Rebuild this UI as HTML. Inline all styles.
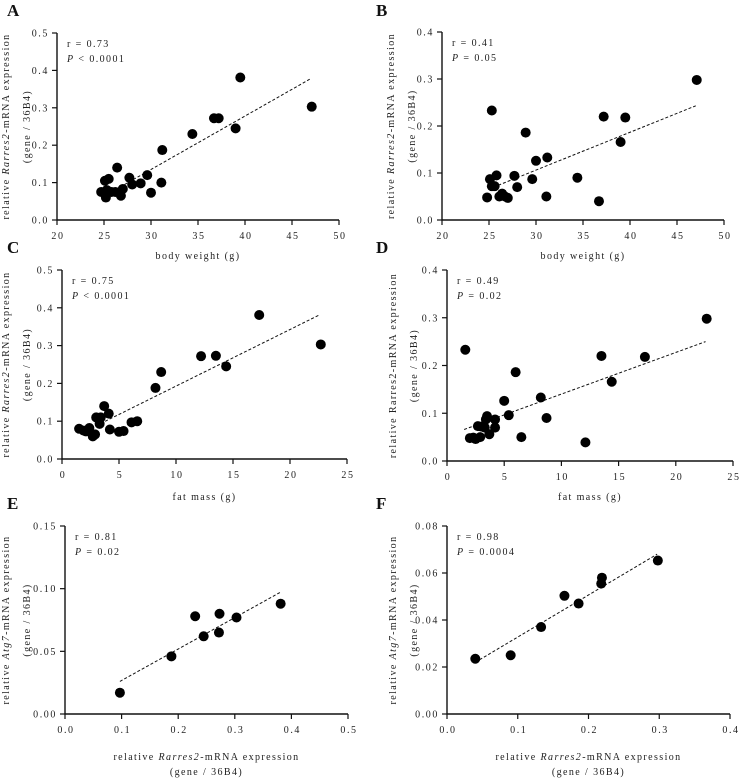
<!DOCTYPE html>
<html><head><meta charset="utf-8">
<style>
html,body{margin:0;padding:0;background:#fff;}
svg{display:block;font-family:"Liberation Serif",serif;}
.tk{font-size:10px;letter-spacing:1.6px;fill:#222;}
.ttl{font-size:10px;letter-spacing:1.4px;fill:#222;}
.st{font-size:10px;letter-spacing:1.4px;fill:#222;}
.lt{font-size:17px;font-weight:bold;fill:#111;}
</style></head>
<body>
<svg id="fig" width="739" height="779" viewBox="0 0 739 779" xmlns="http://www.w3.org/2000/svg"></svg>
<script>
// Panel A: body weight vs Rarres2
const aX=[24.7,25.1,25.5,25.2,25.3,25.8,26.2,26.4,26.8,27.0,27.7,28.0,28.9,29.6,30.0,31.1,31.2,34.4,36.7,37.2,39.0,39.5,47.1];
const aY=[0.075,0.105,0.11,0.06,0.08,0.075,0.075,0.14,0.065,0.083,0.113,0.095,0.098,0.12,0.073,0.1,0.187,0.23,0.272,0.272,0.245,0.381,0.303];
const aFit=[[25.8,0.075],[47.0,0.378]];
// Panel B: body weight vs Rarres2 (second tissue)
const bX=[24.8,25.1,25.3,25.3,25.6,25.8,26.1,26.4,26.7,27.0,27.7,28.0,28.9,29.6,30.0,31.1,31.2,34.4,36.7,37.2,39.0,39.5,47.1];
const bY=[0.048,0.087,0.233,0.072,0.072,0.095,0.05,0.056,0.05,0.047,0.094,0.07,0.186,0.087,0.126,0.05,0.133,0.09,0.04,0.22,0.166,0.218,0.298];
const bFit=[[25.5,0.07],[47.0,0.243]];
// Panel C: fat mass vs Rarres2
const cX=[1.5,1.9,2.1,2.4,2.7,2.9,3.0,3.3,3.4,3.7,4.1,4.2,5.0,5.4,6.1,6.6,8.2,8.7,12.2,13.5,14.4,17.3,22.7];
const cY=[0.08,0.075,0.073,0.082,0.06,0.065,0.11,0.093,0.11,0.14,0.12,0.078,0.072,0.074,0.097,0.1,0.188,0.23,0.272,0.273,0.245,0.381,0.303];
const cFit=[[3.0,0.088],[22.5,0.38]];
// Panel D: fat mass vs Rarres2 (second tissue)
const dX=[1.6,2.0,2.3,2.5,2.7,2.9,3.0,3.3,3.4,3.5,3.7,4.2,4.2,5.0,5.4,6.0,6.5,8.2,8.7,12.1,13.5,14.4,17.3,22.7];
const dY=[0.233,0.048,0.049,0.046,0.073,0.05,0.072,0.07,0.087,0.094,0.056,0.087,0.07,0.126,0.096,0.186,0.05,0.133,0.09,0.039,0.22,0.166,0.218,0.298];
const dFit=[[1.5,0.066],[22.6,0.25]];
// Panel E: Rarres2 vs Atg7
const eX=[0.097,0.188,0.23,0.245,0.272,0.273,0.303,0.381];
const eY=[0.017,0.046,0.078,0.062,0.065,0.08,0.077,0.088];
const eFit=[[0.097,0.026],[0.38,0.097]];
// Panel F: Rarres2 vs Atg7 (second tissue)
const fX=[0.04,0.09,0.133,0.166,0.186,0.218,0.219,0.298];
const fY=[0.0235,0.025,0.037,0.0503,0.047,0.0555,0.058,0.0653];
const fFit=[[0.04,0.022],[0.297,0.068]];
// tick labels
const xTicksBW=["20","25","30","35","40","45","50"];
const xTicksFM=["0","5","10","15","20","25"];
const xTicksE=["0.0","0.1","0.2","0.3","0.4","0.5"];
const xTicksF=["0.0","0.1","0.2","0.3","0.4"];
const yTicks5=["0.0","0.1","0.2","0.3","0.4","0.5"];
const yTicks4=["0.0","0.1","0.2","0.3","0.4"];
const yTicksE=["0.00","0.05","0.10","0.15"];
const yTicksF=["0.00","0.02","0.04","0.06","0.08"];

const NS="http://www.w3.org/2000/svg";
const svg=document.getElementById('fig');
function mk(tag,attrs,parent,txt){const e=document.createElementNS(NS,tag);for(const k in attrs)e.setAttribute(k,attrs[k]);if(txt!==undefined)e.textContent=txt;(parent||svg).appendChild(e);return e;}

function panel(cfg){
  const g=mk('g',{});
  
  
  const [x0,x1]=cfg.xd,[y0,y1]=cfg.yd;
  const sx=v=>cfg.L+(v-x0)/(x1-x0)*(cfg.R-cfg.L);
  const sy=v=>cfg.B-(v-y0)/(y1-y0)*(cfg.B-cfg.T);
  // letter
  const lt=mk('text',{x:cfg.lx,y:cfg.ly,class:'lt'},g,cfg.id);
  
  
  // axes
  const ax=mk('path',{d:`M${cfg.L},${cfg.T}V${cfg.B}H${cfg.R}`,stroke:'#111','stroke-width':1.4,fill:'none'},g);
  
  
  cfg.xt.forEach(t=>{const x=sx(parseFloat(t));
    mk('line',{x1:x,x2:x,y1:cfg.B,y2:cfg.B+5,stroke:'#111','stroke-width':1.2},g);
    const tl=mk('text',{x:x+1,y:cfg.B+19,class:'tk','text-anchor':'middle'},g,t);
    
    });
  cfg.yt.forEach(t=>{const y=sy(parseFloat(t));
    mk('line',{x1:cfg.L-5,x2:cfg.L,y1:y,y2:y,stroke:'#111','stroke-width':1.2},g);
    const tl=mk('text',{x:cfg.L-8,y:y+3.5,class:'tk','text-anchor':'end'},g,t);
    
    });
  // x title
  const cx=(cfg.L+cfg.R)/2;
  cfg.xtitle.forEach((ln,i)=>{const t=mk('text',{x:cx,y:cfg.xty+i*15,class:'ttl','text-anchor':'middle'},g);t.innerHTML=ln;
    
    });
  // y title
  const cy=(cfg.T+cfg.B)/2;
  cfg.ytitle.forEach((ln,i)=>{const xx=cfg.ytx+i*21;const t=mk('text',{x:xx,y:cy,class:'ttl','text-anchor':'middle',transform:`rotate(-90 ${xx} ${cy})`},g);t.innerHTML=ln;
    
    });
  // stats
  const s1=mk('text',{x:cfg.L+10,y:cfg.T+14,class:'st'},g,cfg.r);
  
  
  const s2=mk('text',{x:cfg.L+10,y:cfg.T+29,class:'st'},g);s2.innerHTML='<tspan font-style="italic">P</tspan> '+cfg.p;
  
  
  // fit
  const fl=mk('line',{x1:sx(cfg.fit[0][0]),y1:sy(cfg.fit[0][1]),x2:sx(cfg.fit[1][0]),y2:sy(cfg.fit[1][1]),stroke:'#111','stroke-width':1,'stroke-dasharray':'3,2'},g);
  
  
  cfg.xs.forEach((v,i)=>{const c=mk('circle',{cx:sx(v),cy:sy(cfg.ys[i]),r:5,fill:'#000'},g);
    
    });
}
const rar='relative <tspan font-style="italic">Rarres2</tspan>-mRNA expression';
const atg='relative <tspan font-style="italic">Atg7</tspan>-mRNA expression';
const gn='(gene / 36B4)';
panel({id:'A',L:57,R:339,T:33,B:220,xd:[20,50],yd:[0,0.5],xt:xTicksBW,yt:yTicks5,xs:aX,ys:aY,fit:aFit,lx:7,ly:16,xtitle:['body weight (g)'],xty:259,ytitle:[rar,gn],ytx:9,r:'r = 0.73',p:'&lt; 0.0001'});
panel({id:'B',L:442,R:724,T:32,B:220,xd:[20,50],yd:[0,0.4],xt:xTicksBW,yt:yTicks4,xs:bX,ys:bY,fit:bFit,lx:376,ly:16,xtitle:['body weight (g)'],xty:259,ytitle:[rar,gn],ytx:394,r:'r = 0.41',p:'= 0.05'});
panel({id:'C',L:62,R:347,T:270,B:459,xd:[0,25],yd:[0,0.5],xt:xTicksFM,yt:yTicks5,xs:cX,ys:cY,fit:cFit,lx:7,ly:253,xtitle:['fat mass (g)'],xty:500,ytitle:[rar,gn],ytx:9,r:'r = 0.75',p:'&lt; 0.0001'});
panel({id:'D',L:447,R:733,T:270,B:461,xd:[0,25],yd:[0,0.4],xt:xTicksFM,yt:yTicks4,xs:dX,ys:dY,fit:dFit,lx:376,ly:253,xtitle:['fat mass (g)'],xty:500,ytitle:['relative Rarres2-mRNA expression',gn],ytx:396,r:'r = 0.49',p:'= 0.02'});
panel({id:'E',L:65,R:348,T:526,B:714,xd:[0,0.5],yd:[0,0.15],xt:xTicksE,yt:yTicksE,xs:eX,ys:eY,fit:eFit,lx:7,ly:509,xtitle:[rar,gn],xty:760,ytitle:[atg,gn],ytx:9,r:'r = 0.81',p:'= 0.02'});
panel({id:'F',L:447,R:730,T:526,B:714,xd:[0,0.4],yd:[0,0.08],xt:xTicksF,yt:yTicksF,xs:fX,ys:fY,fit:fFit,lx:376,ly:509,xtitle:[rar,gn],xty:760,ytitle:[atg,gn],ytx:396,r:'r = 0.98',p:'= 0.0004'});
</script>
</body></html>
